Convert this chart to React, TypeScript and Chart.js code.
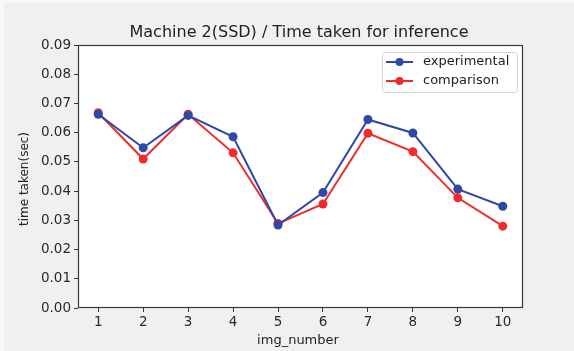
import React, { useEffect, useRef } from "react";
import { Chart, registerables } from "chart.js";

Chart.register(...registerables);

const imgNumbers = [1, 2, 3, 4, 5, 6, 7, 8, 9, 10];
const experimental = [0.0663, 0.0548, 0.0659, 0.0586, 0.0284, 0.0395, 0.0645, 0.0599, 0.0407, 0.0348];
const comparison = [0.0668, 0.051, 0.0663, 0.0531, 0.0289, 0.0356, 0.0598, 0.0535, 0.0377, 0.028];
const yTicks = [0, 0.01, 0.02, 0.03, 0.04, 0.05, 0.06, 0.07, 0.08, 0.09];

const titleText = "Machine 2(SSD) / Time taken for inference";
const xTitle = "img_number";
const yTitle = "time taken(sec)";
const seriesNames = ["experimental", "comparison"];

const BLUE = "#3049a6";
const RED = "#ef2b2b";
const FONT = "'DejaVu Sans', sans-serif";

const W = 574;
const H = 351;
const AREA = { left: 78, right: 523, top: 45, bottom: 308 };

// Frame, title, axis titles and legend in a matplotlib-like style
const decorations = {
  id: "decorations",
  beforeDraw(chart: any) {
    const ctx = chart.ctx;
    ctx.save();
    ctx.fillStyle = "#eff0f2";
    ctx.fillRect(0, 0, W, H);
    ctx.fillStyle = "#f7f8f9";
    ctx.fillRect(0, 0, W, 3);
    ctx.fillRect(0, 0, 4, H);
    const a = chart.chartArea;
    ctx.fillStyle = "#ffffff";
    ctx.fillRect(a.left, a.top, a.right - a.left, a.bottom - a.top);
    ctx.restore();
  },
  afterDraw(chart: any) {
    const ctx = chart.ctx;
    const a = chart.chartArea;
    ctx.save();
    ctx.strokeStyle = "#3a3a3a";
    ctx.lineWidth = 1.2;
    ctx.strokeRect(a.left + 0.5, a.top + 0.5, a.right - a.left - 1, a.bottom - a.top - 1);

    ctx.fillStyle = "#222";
    ctx.textAlign = "center";
    ctx.textBaseline = "middle";
    ctx.font = `16px ${FONT}`;
    ctx.fillText(titleText, 299, 33);

    ctx.font = `13px ${FONT}`;
    ctx.fillText(xTitle, 298, 341);
    ctx.save();
    ctx.translate(25, 179);
    ctx.rotate(-Math.PI / 2);
    ctx.font = `12px ${FONT}`;
    ctx.fillText(yTitle, 0, 0);
    ctx.restore();

    // legend
    const lx = 382, ly = 52, lw = 135, lh = 40;
    ctx.fillStyle = "rgba(255,255,255,0.8)";
    ctx.strokeStyle = "#d6d6d6";
    ctx.lineWidth = 1;
    ctx.beginPath();
    ctx.roundRect(lx + 0.5, ly + 0.5, lw, lh, 3);
    ctx.fill();
    ctx.stroke();
    const colors = [BLUE, RED];
    ctx.font = `13px ${FONT}`;
    seriesNames.forEach((name, i) => {
      const y = ly + 10 + i * 19;
      ctx.strokeStyle = colors[i];
      ctx.lineWidth = 2;
      ctx.beginPath();
      ctx.moveTo(386, y);
      ctx.lineTo(413, y);
      ctx.stroke();
      ctx.fillStyle = colors[i];
      ctx.beginPath();
      ctx.arc(399.5, y, 4, 0, Math.PI * 2);
      ctx.fill();
      ctx.fillStyle = "#222";
      ctx.textAlign = "left";
      ctx.fillText(name, 423, y);
    });
    ctx.restore();
  },
};

export default function App() {
  const ref = useRef<HTMLCanvasElement | null>(null);

  useEffect(() => {
    if (!ref.current) return;
    const mk = (vals: number[]) => imgNumbers.map((x, i) => ({ x, y: vals[i] }));
    const chart = new Chart(ref.current, {
      type: "line",
      data: {
        datasets: [
          {
            label: seriesNames[0],
            data: mk(experimental),
            borderColor: BLUE,
            backgroundColor: BLUE,
            borderWidth: 2,
            pointRadius: 4.5,
            pointBorderWidth: 0,
            tension: 0,
          },
          {
            label: seriesNames[1],
            data: mk(comparison),
            borderColor: RED,
            backgroundColor: RED,
            borderWidth: 2,
            pointRadius: 4.5,
            pointBorderWidth: 0,
            tension: 0,
          },
        ],
      },
      options: {
        responsive: false,
        animation: false,
        events: [],
        layout: { padding: { left: 0, right: W - AREA.right, top: AREA.top, bottom: 0 } },
        plugins: { legend: { display: false }, title: { display: false }, tooltip: { enabled: false } },
        scales: {
          x: {
            type: "linear",
            min: 0.55,
            max: 10.45,
            afterBuildTicks: (s: any) => {
              s.ticks = imgNumbers.map((v) => ({ value: v }));
            },
            afterFit: (s: any) => {
              s.height = H - AREA.bottom;
            },
            grid: { drawOnChartArea: false, tickLength: 4, color: "#3a3a3a" },
            border: { display: false },
            ticks: {
              color: "#2a2a2a",
              font: { family: FONT, size: 13.5 },
              padding: 2,
              maxRotation: 0,
              callback: (v: any) => String(v),
            },
          },
          y: {
            min: 0,
            max: 0.09,
            afterBuildTicks: (s: any) => {
              s.ticks = yTicks.map((v) => ({ value: v }));
            },
            afterFit: (s: any) => {
              s.width = AREA.left;
            },
            grid: { drawOnChartArea: false, tickLength: 4, color: "#3a3a3a" },
            border: { display: false },
            ticks: {
              color: "#2a2a2a",
              font: { family: FONT, size: 13.5 },
              padding: 3,
              callback: (v: any) => Number(v).toFixed(2),
            },
          },
        },
      },
      plugins: [decorations],
    });
    return () => chart.destroy();
  }, []);

  return (
    <div style={{ position: "absolute", left: 0, top: 0, width: W, height: H }}>
      <canvas ref={ref} width={W} height={H} style={{ display: "block" }} />
    </div>
  );
}
